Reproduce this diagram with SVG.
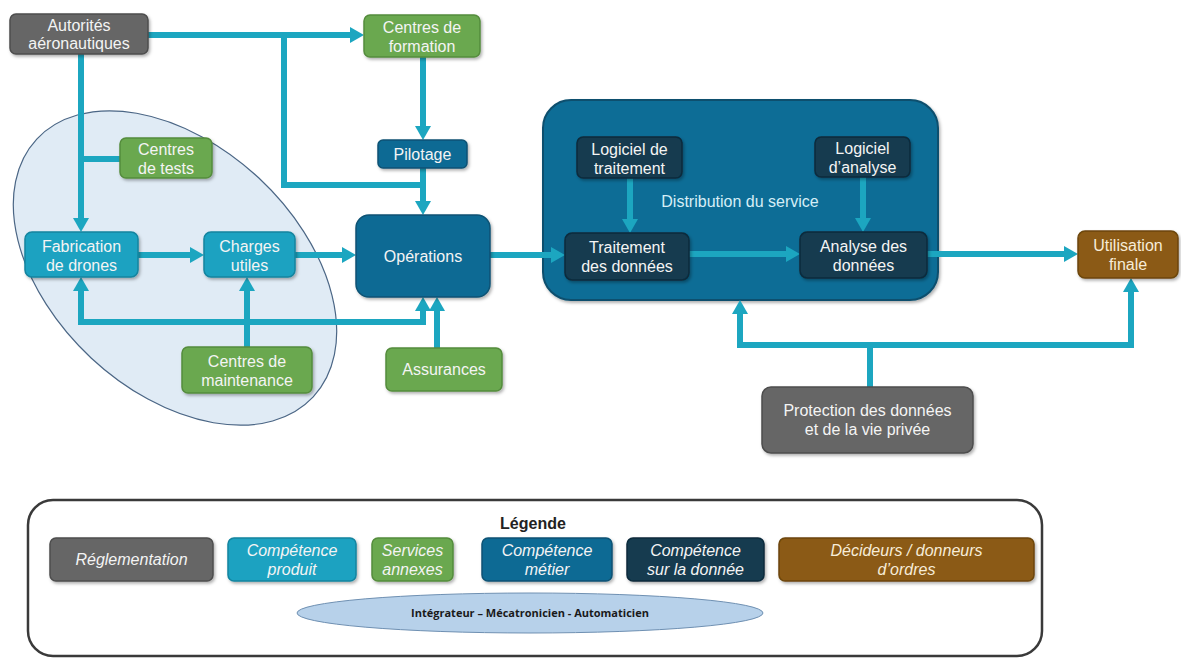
<svg xmlns="http://www.w3.org/2000/svg" width="1181" height="659" viewBox="0 0 1181 659">
<defs>
<style>
text{font-family:"Liberation Sans",Arial,sans-serif;font-size:16px;fill:#f4f4f4;text-anchor:middle}
.n rect{stroke-width:1.5}
.gray{fill:#666666;stroke:#4d4d4d}
.cyan{fill:#1ba2c1;stroke:#12849f}
.green{fill:#6aa84f;stroke:#548c3c}
.blue{fill:#106b94;stroke:#0b5274}
.navy{fill:#123a50;stroke:#0b2a3b}
.brown{fill:#8b5a12;stroke:#6c460c}
.conn{fill:none;stroke:#1ca6c0;stroke-width:6;stroke-linejoin:miter}
.it{font-style:italic}
</style>
<marker id="ah" viewBox="0 0 14 16" refX="8" refY="8" markerWidth="14" markerHeight="16" markerUnits="userSpaceOnUse" orient="auto-start-reverse">
<path d="M0,0 L14,8 L0,16 z" fill="#1ca6c0"/>
</marker>
<filter id="sh" x="-10%" y="-10%" width="130%" height="140%">
<feDropShadow dx="1.5" dy="2" stdDeviation="1.5" flood-color="#000" flood-opacity="0.3"/>
</filter>
</defs>
<rect width="1181" height="659" fill="#ffffff"/>

<g id="integrateur-zone">
<ellipse cx="175" cy="268" rx="189" ry="123" transform="rotate(43 175 268)" fill="#dae7f3" fill-opacity="0.85" stroke="#4b6685" stroke-width="1.2"/>
</g>

<g id="distribution">
<rect x="543" y="100" width="395" height="200" rx="28" fill="#106d96" stroke="#0b4f6e" stroke-width="2" filter="url(#sh)"/>
<text x="740" y="207" style="fill:#d6eef6">Distribution du service</text>
</g>

<g id="connectors">
<path class="conn" d="M81,54 V226" marker-end="url(#ah)"/>
<path class="conn" d="M148,35 H358" marker-end="url(#ah)"/>
<path class="conn" d="M284,35 V185 H423"/>
<path class="conn" d="M423,57 V134" marker-end="url(#ah)"/>
<path class="conn" d="M423,168 V209" marker-end="url(#ah)"/>
<path class="conn" d="M81,159 H120"/>
<path class="conn" d="M138,255 H198" marker-end="url(#ah)"/>
<path class="conn" d="M295,255 H350" marker-end="url(#ah)"/>
<path class="conn" d="M81,283 V322 H423 V303" marker-start="url(#ah)" marker-end="url(#ah)"/>
<path class="conn" d="M247,347 V283" marker-end="url(#ah)"/>
<path class="conn" d="M437,348 V303" marker-end="url(#ah)"/>
<path class="conn" d="M490,255 H559" marker-end="url(#ah)"/>
<path class="conn" d="M630,178 V227" marker-end="url(#ah)"/>
<path class="conn" d="M863,177 V226" marker-end="url(#ah)"/>
<path class="conn" d="M689,254 H794" marker-end="url(#ah)"/>
<path class="conn" d="M927,254 H1072" marker-end="url(#ah)"/>
<path class="conn" d="M740,306 V345 H1131 V284" marker-start="url(#ah)" marker-end="url(#ah)"/>
<path class="conn" d="M870,387 V345"/>
</g>

<g id="autorites" class="n"><rect class="gray" x="10" y="14" width="138" height="40" rx="6" filter="url(#sh)"/><text x="79" y="31">Autorités</text><text x="79" y="49">aéronautiques</text></g>
<g id="centres-formation" class="n"><rect class="green" x="364" y="15" width="116" height="42" rx="6" filter="url(#sh)"/><text x="422" y="33">Centres de</text><text x="422" y="52">formation</text></g>
<g id="pilotage" class="n"><rect class="blue" x="378" y="140" width="89" height="28" rx="5" filter="url(#sh)"/><text x="422.5" y="159.5">Pilotage</text></g>
<g id="centres-tests" class="n"><rect class="green" x="120" y="138" width="92" height="40" rx="6" filter="url(#sh)"/><text x="166" y="155">Centres</text><text x="166" y="174">de tests</text></g>
<g id="fabrication" class="n"><rect class="cyan" x="25" y="232" width="113" height="45" rx="7" filter="url(#sh)"/><text x="81.5" y="252">Fabrication</text><text x="81.5" y="271">de drones</text></g>
<g id="charges" class="n"><rect class="cyan" x="204" y="232" width="91" height="45" rx="7" filter="url(#sh)"/><text x="249.5" y="252">Charges</text><text x="249.5" y="271">utiles</text></g>
<g id="operations" class="n"><rect class="blue" x="356" y="215" width="134" height="82" rx="13" filter="url(#sh)"/><text x="423" y="261.5">Opérations</text></g>
<g id="centres-maintenance" class="n"><rect class="green" x="182" y="347" width="130" height="46" rx="6" filter="url(#sh)"/><text x="247" y="367">Centres de</text><text x="247" y="386">maintenance</text></g>
<g id="assurances" class="n"><rect class="green" x="386" y="348" width="116" height="43" rx="6" filter="url(#sh)"/><text x="444" y="375">Assurances</text></g>
<g id="logiciel-traitement" class="n"><rect class="navy" x="577" y="137" width="105" height="41" rx="6" filter="url(#sh)"/><text x="629.5" y="155">Logiciel de</text><text x="629.5" y="174">traitement</text></g>
<g id="logiciel-analyse" class="n"><rect class="navy" x="815" y="137" width="95" height="40" rx="6" filter="url(#sh)"/><text x="862.5" y="154">Logiciel</text><text x="862.5" y="173">d’analyse</text></g>
<g id="traitement" class="n"><rect class="navy" x="565" y="233" width="124" height="47" rx="7" filter="url(#sh)"/><text x="627" y="253">Traitement</text><text x="627" y="272">des données</text></g>
<g id="analyse" class="n"><rect class="navy" x="800" y="232" width="127" height="46" rx="7" filter="url(#sh)"/><text x="863.5" y="252">Analyse des</text><text x="863.5" y="271">données</text></g>
<g id="utilisation" class="n"><rect class="brown" x="1078" y="231" width="100" height="47" rx="7" filter="url(#sh)"/><text x="1128" y="251" style="fill:#f7ecd8">Utilisation</text><text x="1128" y="270" style="fill:#f7ecd8">finale</text></g>
<g id="protection" class="n"><rect class="gray" x="762" y="387" width="211" height="66" rx="9" filter="url(#sh)"/><text x="867.5" y="416">Protection des données</text><text x="867.5" y="435">et de la vie privée</text></g>

<g id="legende">
<rect x="28" y="500" width="1014" height="156" rx="25" fill="#ffffff" stroke="#3a3a3a" stroke-width="2.5"/>
<text x="533" y="529" style="fill:#222222;font-weight:bold">Légende</text>
<g id="leg-reglementation" class="n"><rect class="gray" x="50" y="538" width="163" height="43" rx="6" filter="url(#sh)"/><text class="it" x="131.5" y="565">Réglementation</text></g>
<g id="leg-produit" class="n"><rect class="cyan" x="228" y="538" width="128" height="43" rx="6" filter="url(#sh)"/><text class="it" x="292" y="556">Compétence</text><text class="it" x="292" y="575">produit</text></g>
<g id="leg-services" class="n"><rect class="green" x="372" y="538" width="81" height="43" rx="6" filter="url(#sh)"/><text class="it" x="412.5" y="556">Services</text><text class="it" x="412.5" y="575">annexes</text></g>
<g id="leg-metier" class="n"><rect class="blue" x="482" y="538" width="130" height="43" rx="6" filter="url(#sh)"/><text class="it" x="547" y="556">Compétence</text><text class="it" x="547" y="575">métier</text></g>
<g id="leg-donnee" class="n"><rect class="navy" x="627" y="538" width="137" height="43" rx="6" filter="url(#sh)"/><text class="it" x="695.5" y="556">Compétence</text><text class="it" x="695.5" y="575">sur la donnée</text></g>
<g id="leg-decideurs" class="n"><rect class="brown" x="779" y="538" width="255" height="43" rx="6" filter="url(#sh)"/><text class="it" x="906.5" y="556" style="fill:#f7ecd8">Décideurs / donneurs</text><text class="it" x="906.5" y="575" style="fill:#f7ecd8">d’ordres</text></g>
<g id="leg-integrateur">
<ellipse cx="530" cy="613" rx="233" ry="20" fill="#b7d1ea" stroke="#6f90b2" stroke-width="1"/>
<text x="530" y="617" style="fill:#1a1a1a;font-family:'Open Sans','Liberation Sans',sans-serif;font-size:11px;font-weight:bold">Intégrateur – Mécatronicien - Automaticien</text>
</g>
</g>
</svg>
